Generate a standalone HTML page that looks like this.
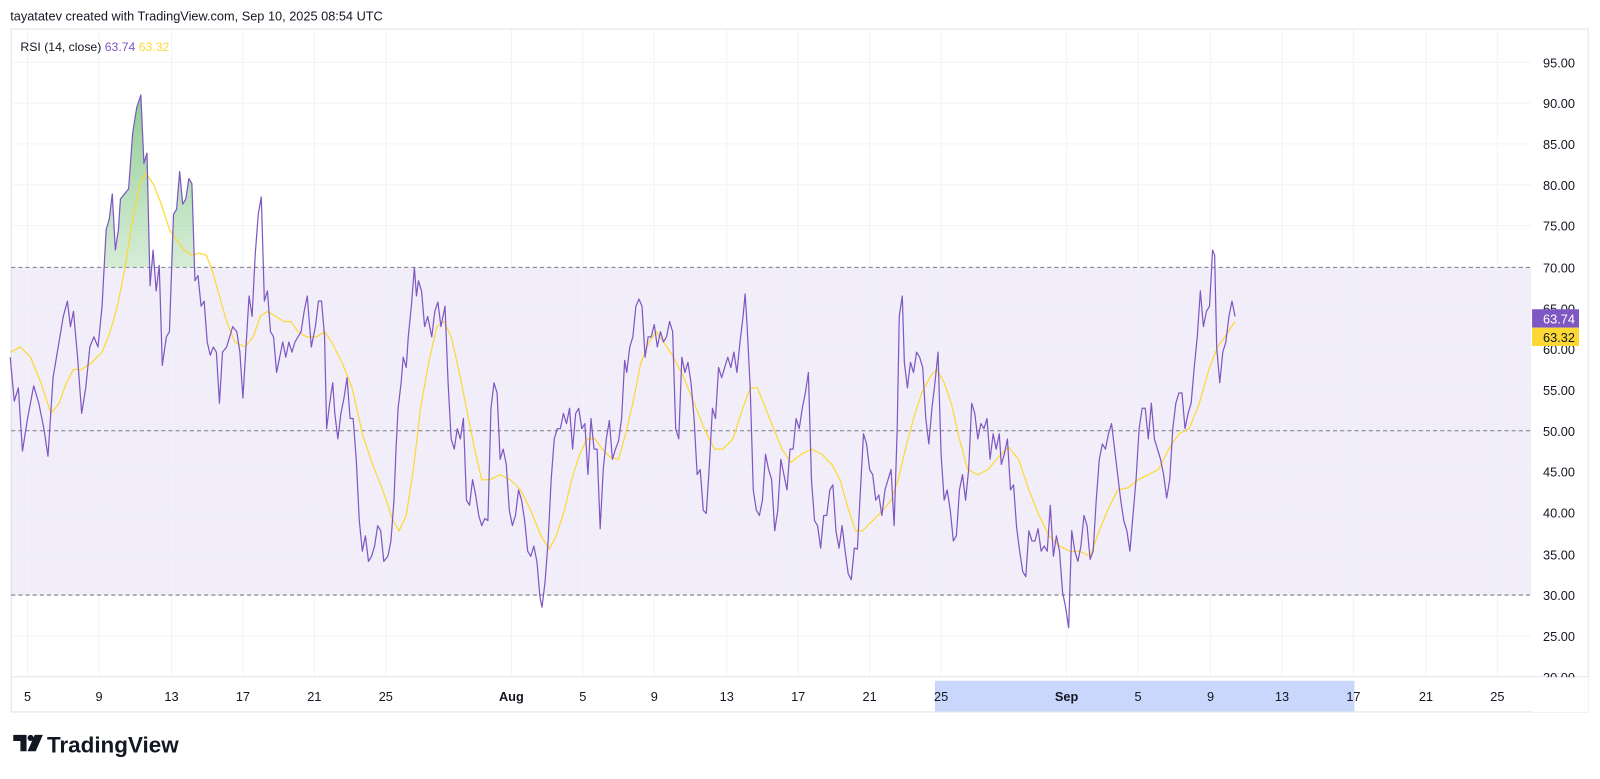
<!DOCTYPE html>
<html><head><meta charset="utf-8"><style>
html,body{margin:0;padding:0;background:#fff;width:1600px;height:778px;overflow:hidden}
svg{position:absolute;left:0;top:0;transform:scale(1.0207);transform-origin:0 0;font-family:"Liberation Sans",sans-serif}
</style></head><body>
<svg width="1568" height="763" viewBox="0 0 1568 763" xmlns="http://www.w3.org/2000/svg">
<defs>
<linearGradient id="g" x1="0" y1="0" x2="0" y2="1"><stop offset="0" stop-color="#66bb6a" stop-opacity="0.75"/><stop offset="1" stop-color="#c8e6c9" stop-opacity="0.3"/></linearGradient>
<clipPath id="c"><rect x="10" y="0" width="1490" height="262"/></clipPath>
</defs>
<text x="10" y="20" font-size="12.5" fill="#131722">tayatatev created with TradingView.com, Sep 10, 2025 08:54 UTC</text>
<rect x="11" y="28.5" width="1545" height="669" fill="none" stroke="#e0e3eb" stroke-width="1"/>
<line x1="11" y1="663" x2="1556" y2="663" stroke="#e0e3eb"/>
<rect x="11" y="262" width="1489" height="321" fill="#7e57c2" fill-opacity="0.1"/>
<g stroke="#f0f3fa" stroke-width="1">
<line x1="11" x2="1500" y1="61" y2="61"/><line x1="11" x2="1500" y1="101" y2="101"/><line x1="11" x2="1500" y1="141" y2="141"/><line x1="11" x2="1500" y1="181" y2="181"/><line x1="11" x2="1500" y1="221" y2="221"/><line x1="11" x2="1500" y1="302" y2="302"/><line x1="11" x2="1500" y1="342" y2="342"/><line x1="11" x2="1500" y1="382" y2="382"/><line x1="11" x2="1500" y1="462" y2="462"/><line x1="11" x2="1500" y1="502" y2="502"/><line x1="11" x2="1500" y1="543" y2="543"/><line x1="11" x2="1500" y1="623" y2="623"/>
<line x1="27" x2="27" y1="29" y2="663"/><line x1="97" x2="97" y1="29" y2="663"/><line x1="168" x2="168" y1="29" y2="663"/><line x1="238" x2="238" y1="29" y2="663"/><line x1="308" x2="308" y1="29" y2="663"/><line x1="378" x2="378" y1="29" y2="663"/><line x1="501" x2="501" y1="29" y2="663"/><line x1="571" x2="571" y1="29" y2="663"/><line x1="641" x2="641" y1="29" y2="663"/><line x1="712" x2="712" y1="29" y2="663"/><line x1="782" x2="782" y1="29" y2="663"/><line x1="852" x2="852" y1="29" y2="663"/><line x1="922" x2="922" y1="29" y2="663"/><line x1="1045" x2="1045" y1="29" y2="663"/><line x1="1115" x2="1115" y1="29" y2="663"/><line x1="1186" x2="1186" y1="29" y2="663"/><line x1="1256" x2="1256" y1="29" y2="663"/><line x1="1326" x2="1326" y1="29" y2="663"/><line x1="1397" x2="1397" y1="29" y2="663"/><line x1="1467" x2="1467" y1="29" y2="663"/>
</g>
<g stroke="#787b86" stroke-dasharray="4,3" stroke-width="1"><line x1="11" x2="1500" y1="262" y2="262"/><line x1="11" x2="1500" y1="422" y2="422"/><line x1="11" x2="1500" y1="583" y2="583"/></g>
<polygon clip-path="url(#c)" fill="url(#g)" points="96,262 100,300 104,225 107,215 110,190 113,245 116,225 118,195 122,190 126,185 130,130 134,105 138,93 141,160 144,150 147,280 150,245 153,285 156,260 159,358 163,330 166,325 170,210 173,205 176,168 179,200 182,195 185,175 188,180 191,275 195,262"/>
<polyline fill="none" stroke="#fdd835" stroke-width="1.2" points="10,345 20,340 30,350 40,375 50,405 58,395 65,375 72,362 80,362 90,355 100,345 108,325 115,300 122,265 130,215 137,180 143,170 150,180 158,200 166,225 173,235 180,245 188,250 195,248 202,250 208,265 215,290 222,315 230,335 240,340 248,330 255,310 262,305 270,310 278,315 285,315 292,325 300,330 310,330 318,325 325,335 335,355 345,380 355,425 365,455 375,480 385,510 391,520 398,505 405,460 412,400 420,355 428,320 435,315 442,330 450,365 458,405 465,440 472,470 480,470 490,465 500,470 510,480 520,500 530,525 538,538 545,525 553,500 560,470 568,445 575,430 583,430 590,440 598,448 606,450 613,425 620,395 628,355 636,335 643,325 650,335 660,350 670,370 680,395 690,420 700,440 708,440 718,430 726,405 735,380 742,380 750,400 758,420 766,440 775,453 785,445 795,440 805,445 815,455 823,470 830,495 838,520 845,520 855,510 865,500 873,490 880,470 887,440 895,410 903,385 912,368 918,362 925,375 932,395 940,430 948,460 958,465 968,460 978,448 988,438 998,450 1008,480 1018,505 1028,525 1038,535 1048,540 1058,540 1068,545 1075,525 1085,500 1095,480 1105,478 1115,470 1125,465 1135,460 1145,440 1155,425 1165,420 1175,395 1185,360 1193,340 1200,330 1210,315"/>
<polyline fill="none" stroke="#7e57c2" stroke-width="1.2" stroke-linejoin="round" points="10,350 14,393 18,380 22,442 27,410 33,378 38,395 43,420 47,447 52,370 57,340 62,310 66,295 69,320 72,305 76,350 80,405 84,380 88,340 92,330 96,340 100,300 104,225 107,215 110,190 113,245 116,225 118,195 122,190 126,185 130,130 134,105 138,93 141,160 144,150 147,280 150,245 153,285 156,260 159,358 163,330 166,325 170,210 173,205 176,168 179,200 182,195 185,175 188,180 191,275 194,270 197,300 200,295 203,335 206,348 209,340 212,345 215,395 218,345 222,340 225,330 228,320 232,325 235,345 238,390 241,340 244,290 247,310 250,250 253,210 256,193 259,295 262,285 265,325 268,330 271,365 274,350 277,335 280,350 283,335 286,345 289,335 292,330 295,325 298,305 301,290 305,340 309,320 312,295 315,295 318,330 320,420 323,395 326,375 328,405 331,430 334,405 337,390 340,370 343,410 346,410 349,450 352,510 355,540 358,525 361,550 364,545 367,535 370,515 373,520 376,550 380,545 383,530 386,490 388,440 390,400 393,375 395,350 398,360 400,330 403,300 406,262 408,290 410,275 413,285 416,320 419,310 423,330 426,305 429,296 432,320 436,300 439,375 442,430 445,440 448,420 451,430 454,410 457,490 460,495 463,470 466,485 469,505 472,515 475,508 478,510 481,400 484,375 487,385 490,450 493,440 496,455 499,500 502,515 505,505 508,480 511,490 514,510 517,540 520,545 523,535 526,550 529,585 531,595 534,570 537,530 540,470 543,430 546,420 549,420 552,405 555,415 558,400 561,440 564,405 567,400 570,420 573,415 576,465 579,410 582,440 585,440 588,518 591,460 594,430 597,412 600,450 603,440 606,432 609,410 612,353 614,365 617,340 620,330 623,300 626,293 629,300 632,350 635,330 638,330 641,318 644,340 647,325 650,335 653,330 656,315 659,325 662,420 665,430 668,350 671,365 674,355 677,375 680,410 683,465 686,460 689,500 692,503 695,455 698,400 701,410 704,360 707,370 710,360 713,350 716,360 719,345 722,365 725,335 728,310 730,288 732,320 735,380 738,480 741,500 744,505 747,490 750,445 753,460 756,470 759,520 762,500 765,450 768,465 771,480 774,440 777,440 780,410 783,420 786,400 789,385 792,365 795,470 798,510 801,515 804,537 807,505 810,505 813,480 816,475 819,520 822,537 825,515 828,540 831,562 834,568 837,537 840,538 843,480 846,425 849,435 852,460 855,465 858,490 861,485 864,505 867,480 870,470 873,460 876,515 879,420 881,310 884,290 886,355 889,380 892,355 895,365 898,345 901,350 904,360 907,410 910,435 913,400 916,375 919,345 922,445 925,490 928,480 931,500 934,530 937,525 940,480 943,465 946,490 949,460 952,395 955,405 958,430 961,415 964,420 967,410 970,450 973,425 976,440 979,425 981,455 984,445 987,430 990,480 993,475 996,517 999,540 1002,560 1005,565 1008,520 1011,530 1014,530 1017,518 1020,540 1023,535 1026,540 1029,495 1032,545 1035,525 1038,540 1041,580 1044,595 1047,615 1050,520 1053,540 1056,550 1059,535 1062,505 1065,515 1068,548 1071,540 1074,490 1077,450 1080,435 1083,440 1086,425 1089,415 1092,440 1095,465 1098,490 1101,510 1104,520 1107,540 1110,505 1113,470 1116,420 1119,400 1122,400 1125,430 1128,395 1131,430 1134,440 1137,450 1140,465 1143,488 1146,470 1149,420 1152,395 1155,385 1158,385 1161,420 1164,405 1167,395 1170,360 1173,330 1176,285 1179,320 1182,305 1185,300 1188,245 1190,250 1192,340 1195,375 1198,345 1201,335 1204,310 1207,295 1210,310"/>
<text x="20" y="50" font-size="12" fill="#131722">RSI (14, close) <tspan fill="#7e57c2">63.74</tspan> <tspan fill="#fdd835">63.32</tspan></text>
<g font-size="12.5" fill="#131722" text-anchor="end">
<text x="1543" y="66">95.00</text><text x="1543" y="106">90.00</text><text x="1543" y="146">85.00</text><text x="1543" y="186">80.00</text><text x="1543" y="226">75.00</text><text x="1543" y="267">70.00</text><text x="1543" y="307">65.00</text><text x="1543" y="347">60.00</text><text x="1543" y="387">55.00</text><text x="1543" y="427">50.00</text><text x="1543" y="467">45.00</text><text x="1543" y="507">40.00</text><text x="1543" y="548">35.00</text><text x="1543" y="588">30.00</text><text x="1543" y="628">25.00</text><text x="1543" y="668">20.00</text>
</g>
<rect x="1500" y="0" width="56" height="28" fill="#fff"/>
<rect x="1501" y="663.5" width="55" height="34" fill="#fff"/>
<rect x="1501" y="303" width="46" height="18" fill="#7e57c2"/>
<text x="1543" y="317" font-size="12.5" fill="#fff" text-anchor="end">63.74</text>
<rect x="1501" y="321" width="46" height="18" fill="#fdd835"/>
<text x="1543" y="335" font-size="12.5" fill="#131722" text-anchor="end">63.32</text>
<rect x="916" y="667" width="411" height="30" fill="#c9d7fc"/>
<g font-size="12.5" fill="#131722" text-anchor="middle">
<text x="27" y="687">5</text><text x="97" y="687">9</text><text x="168" y="687">13</text><text x="238" y="687">17</text><text x="308" y="687">21</text><text x="378" y="687">25</text><text x="501" y="687" font-weight="bold">Aug</text><text x="571" y="687">5</text><text x="641" y="687">9</text><text x="712" y="687">13</text><text x="782" y="687">17</text><text x="852" y="687">21</text><text x="922" y="687">25</text><text x="1045" y="687" font-weight="bold">Sep</text><text x="1115" y="687">5</text><text x="1186" y="687">9</text><text x="1256" y="687">13</text><text x="1326" y="687">17</text><text x="1397" y="687">21</text><text x="1467" y="687">25</text>
</g>
<g fill="#131722">
<path d="M13 720h13v16h-6v-10h-7z"/><circle cx="30" cy="723" r="3"/><path d="M34 720h8l-7 16h-8z"/>
</g>
<text x="46" y="737" font-size="22" font-weight="bold" fill="#131722">TradingView</text>
</svg>
</body></html>
